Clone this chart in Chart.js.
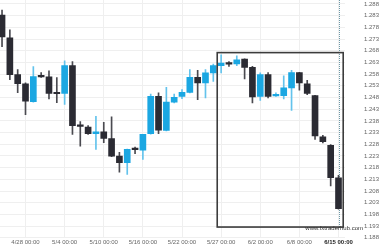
<!DOCTYPE html>
<html>
<head>
<meta charset="utf-8">
<script src="https://cdn.jsdelivr.net/npm/chart.js@4/dist/chart.umd.min.js"></script>
<style>
  html, body { margin: 0; padding: 0; background: #fff; }
  #wrap { width: 380px; height: 250px; }
</style>
</head>
<body>
<div id="wrap"><canvas id="chart" width="380" height="250"></canvas></div>
<script>
// daily candles, index 0 = oldest one on screen
const opens  = [1.2833, 1.2735, 1.2578, 1.2539, 1.2462, 1.2570, 1.2568, 1.2498, 1.2497, 1.2616,
                1.2363, 1.2353, 1.2325, 1.2333, 1.2304, 1.2229, 1.2201, 1.2259, 1.2255, 1.2325,
                1.2485, 1.2339, 1.2460, 1.2485, 1.2502, 1.2566, 1.2542, 1.2585, 1.2616, 1.2625,
                1.2624, 1.2644, 1.2609, 1.2485, 1.2578, 1.2487, 1.2488, 1.2521, 1.2587, 1.2538,
                1.2488, 1.2312, 1.2275, 1.2137];
const highs  = [1.2854, 1.2769, 1.2599, 1.2543, 1.2612, 1.2587, 1.2594, 1.2565, 1.2637, 1.2634,
                1.2377, 1.2360, 1.2400, 1.2374, 1.2397, 1.2246, 1.2259, 1.2268, 1.2323, 1.2495,
                1.2500, 1.2523, 1.2495, 1.2514, 1.2599, 1.2596, 1.2599, 1.2623, 1.2663, 1.2634,
                1.2658, 1.2645, 1.2613, 1.2585, 1.2587, 1.2500, 1.2573, 1.2596, 1.2588, 1.2553,
                1.2489, 1.2318, 1.2279, 1.2147];
const lows   = [1.2697, 1.2556, 1.2501, 1.2407, 1.2460, 1.2566, 1.2474, 1.2458, 1.2450, 1.2322,
                1.2272, 1.2322, 1.2258, 1.2287, 1.2227, 1.2161, 1.2151, 1.2240, 1.2215, 1.2323,
                1.2325, 1.2337, 1.2457, 1.2475, 1.2500, 1.2471, 1.2478, 1.2549, 1.2585, 1.2613,
                1.2616, 1.2559, 1.2457, 1.2467, 1.2478, 1.2485, 1.2474, 1.2425, 1.2511, 1.2492,
                1.2301, 1.2286, 1.2102, 1.2002];
const closes = [1.2739, 1.2578, 1.2539, 1.2464, 1.2570, 1.2568, 1.2497, 1.2496, 1.2616, 1.2360,
                1.2356, 1.2325, 1.2333, 1.2305, 1.2229, 1.2201, 1.2258, 1.2257, 1.2322, 1.2485,
                1.2340, 1.2460, 1.2481, 1.2502, 1.2566, 1.2542, 1.2585, 1.2616, 1.2627, 1.2623,
                1.2641, 1.2609, 1.2482, 1.2578, 1.2485, 1.2489, 1.2521, 1.2587, 1.2542, 1.2497,
                1.2316, 1.2291, 1.2137, 1.2005];

// axis ticks
const xTickIndex  = [3, 8, 13, 18, 23, 28, 33, 38, 43];
const xTickLabels = ['4/28 00:00', '5/4 00:00', '5/10 00:00', '5/16 00:00', '5/22 00:00',
                     '5/27 00:00', '6/2 00:00', '6/8 00:00', '6/15 00:00'];
const yTicks = [1.188, 1.193, 1.198, 1.203, 1.208, 1.213, 1.218, 1.223, 1.228, 1.233, 1.238,
                1.243, 1.248, 1.253, 1.258, 1.263, 1.268, 1.273, 1.278, 1.283, 1.288];

// visible range of the axes
const xRange = [-0.26, 43.83];
const yRange = [1.188, 1.2897];

// highlighted pattern box (candle index, price) and marker on last candle
const boxX = [27.5, 43.6];
const boxY = [1.1926, 1.2672];
const markerIndex = 43;

const UP = '#1ba7e2', DOWN = '#2b2b33';
const UP_WICK = '#63c3ec', DOWN_WICK = '#4a4a50';
const isUp = opens.map((o, i) => closes[i] >= o);

Chart.defaults.font.family = "'Liberation Sans', Arial, sans-serif";

const overlay = {
  id: 'overlay',
  beforeDatasetsDraw(chart) {
    const { ctx, scales: { x, y }, chartArea } = chart;
    const mx = Math.round(x.getPixelForValue(markerIndex)) + 0.5;
    ctx.save();
    ctx.strokeStyle = '#6b97a6';
    ctx.lineWidth = 1;
    ctx.setLineDash([1, 1]);
    ctx.beginPath();
    ctx.moveTo(mx, chartArea.top);
    ctx.lineTo(mx, y.getPixelForValue(boxY[0]));
    ctx.stroke();
    ctx.restore();
  },
  afterDatasetsDraw(chart) {
    const { ctx, scales: { x, y } } = chart;
    const x0 = x.getPixelForValue(boxX[0]), x1 = x.getPixelForValue(boxX[1]);
    const y0 = y.getPixelForValue(boxY[1]), y1 = y.getPixelForValue(boxY[0]);
    ctx.save();
    ctx.strokeStyle = '#3c3c3c';
    ctx.lineWidth = 1.6;
    ctx.strokeRect(x0, y0, x1 - x0, y1 - y0);
    // source line
    ctx.fillStyle = '#333';
    ctx.font = "6px 'Liberation Sans', Arial, sans-serif";
    ctx.textAlign = 'right';
    ctx.textBaseline = 'alphabetic';
    ctx.fillText('www.fxtraderhub.com', 363, 229.5);
    ctx.restore();
  }
};

new Chart(document.getElementById('chart'), {
  type: 'bar',
  data: {
    datasets: [{
      label: 'body',
      data: opens.map((o, i) => ({ x: i, y: [o, closes[i]] })),
      backgroundColor: isUp.map(u => u ? UP : DOWN),
      borderWidth: 0,
      barThickness: 6,
      minBarLength: 1.5,
      grouped: false,
      order: 0
    }, {
      label: 'wick',
      data: lows.map((l, i) => ({ x: i, y: [l, highs[i]] })),
      backgroundColor: isUp.map(u => u ? UP_WICK : DOWN_WICK),
      borderWidth: 0,
      barThickness: 1,
      grouped: false,
      order: 1
    }]
  },
  options: {
    responsive: false,
    animation: false,
    devicePixelRatio: 1,
    layout: { padding: { top: 0, left: 0, right: 0, bottom: 3 } },
    plugins: { legend: { display: false }, tooltip: { enabled: false } },
    scales: {
      x: {
        type: 'linear',
        offset: false,
        min: xRange[0],
        max: xRange[1],
        afterBuildTicks: s => { s.ticks = xTickIndex.map(v => ({ value: v })); },
        afterFit: s => { s.paddingLeft = 0; s.paddingRight = 0; },
        grid: { color: '#efefef', drawTicks: false, offset: false },
        border: { display: false },
        ticks: {
          autoSkip: false,
          maxRotation: 0,
          padding: 1,
          callback: (v, i) => xTickLabels[i],
          color: c => c.index === xTickLabels.length - 1 ? '#222' : '#666',
          font: c => ({ size: 6, weight: c.index === xTickLabels.length - 1 ? 'bold' : 'normal' })
        }
      },
      y: {
        position: 'right',
        min: yRange[0],
        max: yRange[1],
        afterBuildTicks: s => { s.ticks = yTicks.map(v => ({ value: v })); },
        afterFit: s => { s.width = 35; s.paddingTop = 0; s.paddingBottom = 0; },
        grid: { color: '#efefef', drawTicks: false },
        border: { display: false },
        ticks: {
          padding: 19,
          color: '#666',
          font: { size: 6 },
          callback: v => v.toFixed(3)
        }
      }
    }
  },
  plugins: [overlay]
});
</script>
</body>
</html>
